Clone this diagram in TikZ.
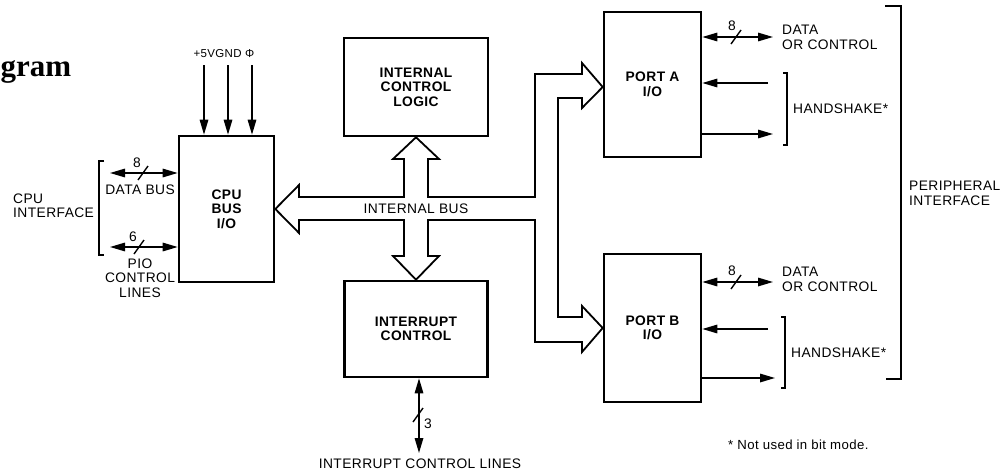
\documentclass[tikz,border=0pt]{standalone}
\usepackage{fontspec}
\setmainfont{Liberation Sans}[LetterSpace=3]
\newfontfamily\titlefont{Liberation Serif}
\usetikzlibrary{arrows.meta,calc}
\begin{document}
\begin{tikzpicture}[x=1pt,y=-1pt,
  blk/.style={draw,line width=2.6pt,inner sep=0pt,align=center,
    font=\fontsize{13.8}{14.5}\selectfont\bfseries},
  lbl/.style={inner sep=0pt,align=center,font=\fontsize{13.8}{14.5}\selectfont},
  num/.style={inner sep=0pt,font=\fontsize{13.8}{14.5}\selectfont},
  sig/.style={line width=1.5pt,-{Triangle[length=15pt,width=8.5pt]}},
  bisig/.style={line width=1.5pt,{Triangle[length=15pt,width=8.5pt]}-{Triangle[length=15pt,width=8.5pt]}},
  bus/.style={line width=1.8pt,line join=miter},
  brk/.style={line width=1.2pt},
  bigbrk/.style={line width=2.2pt},
  slashmark/.style={line width=1.4pt}]
\useasboundingbox (0,0) rectangle (1008,471);

% title fragment
\node[anchor=base west,inner sep=0pt,font=\titlefont\fontsize{31}{31}\selectfont\bfseries] (title) at (0.5,76) {gram};

% blocks
\node[blk,minimum width=95pt,minimum height=146pt] (cpu) at (226.5,209) {CPU\\BUS\\I/O};
\node[blk,minimum width=144pt,minimum height=98pt] (icl) at (416,87) {INTERNAL\\CONTROL\\LOGIC};
\node[blk,minimum width=143pt,minimum height=96pt] (irq) at (416,329) {INTERRUPT\\CONTROL};
\node[blk,minimum width=97pt,minimum height=145pt] (porta) at (652.5,84.5) {PORT A\\I/O};
\node[blk,minimum width=97pt,minimum height=148pt] (portb) at (652.5,328) {PORT B\\I/O};

% internal bus outline
\draw[bus] (cpu.east) -- (299,185) -- (299,197) -- (404,197) -- (404,159) -- (393,159)
  -- (icl.south) -- (439,159) -- (428,159) -- (428,197) -- (535,197) -- (535,74)
  -- (582,74) -- (582,63) -- ($(porta.west)+(0,2.5)$) -- (582,108) -- (582,98)
  -- (558,98) -- (558,317) -- (582,317) -- (582,306) -- (portb.west) -- (582,352)
  -- (582,342) -- (535,342) -- (535,220) -- (428,220) -- (428,256) -- (439,256)
  -- (irq.north) -- (393,256) -- (404,256) -- (404,220) -- (299,220) -- (299,233) -- cycle;
\node[lbl] (ibus) at (416,209) {INTERNAL BUS};

% power inputs
\node[inner sep=0pt,font=\fontsize{11.5}{12}\selectfont] (pwr) at (224,54) {+5VGND Φ};
\coordinate (pv) at (204,65);
\coordinate (pg) at (228,65);
\coordinate (pf) at (252,65);
\draw[sig] (pv) -- (pv |- cpu.north);
\draw[sig] (pg) -- (pg |- cpu.north);
\draw[sig] (pf) -- (pf |- cpu.north);

% CPU interface
\coordinate (db) at (110,173);
\draw[bisig] (db) -- (db -| cpu.west);
\draw[slashmark] (138,180) -- (148,166);
\node[num] (n8a) at (137,163) {8};
\node[lbl] (dbl) at (140,190) {DATA BUS};
\coordinate (pc) at (110,247);
\draw[bisig] (pc) -- (pc -| cpu.west);
\draw[slashmark] (134,254) -- (144,240);
\node[num] (n6) at (133,237) {6};
\node[lbl] (pio) at (140,278) {PIO\\CONTROL\\LINES};
\draw[brk] (104,161) -- (99,161) -- (99,255) -- (104,255);
\node[lbl,anchor=west,align=left] (cpuif) at (13,205.5) {CPU\\INTERFACE};

% Port A signals
\coordinate (ad) at (773,37);
\draw[bisig] (ad -| porta.east) -- (ad);
\draw[slashmark] (731,44) -- (741,30);
\node[num] (n8b) at (732,26) {8};
\node[lbl,anchor=west,align=left] (adl) at (782,37.5) {DATA\\OR CONTROL};
\coordinate (ah1) at (768,83);
\draw[sig] (ah1) -- (ah1 -| porta.east);
\coordinate (ah2) at (773,134);
\draw[sig] (ah2 -| porta.east) -- (ah2);
\draw[brk] (783,73) -- (787,73) -- (787,145) -- (783,145);
\node[lbl,anchor=west] (hsa) at (793,109) {HANDSHAKE*};

% Port B signals
\coordinate (bd) at (773,282);
\draw[bisig] (bd -| portb.east) -- (bd);
\draw[slashmark] (731,289) -- (741,275);
\node[num] (n8c) at (732,271) {8};
\node[lbl,anchor=west,align=left] (bdl) at (782,279.5) {DATA\\OR CONTROL};
\coordinate (bh1) at (768,329);
\draw[sig] (bh1) -- (bh1 -| portb.east);
\coordinate (bh2) at (775,378);
\draw[sig] (bh2 -| portb.east) -- (bh2);
\draw[brk] (781,317) -- (785,317) -- (785,388) -- (781,388);
\node[lbl,anchor=west] (hsb) at (791,353) {HANDSHAKE*};

% peripheral interface
\draw[bigbrk] (885,6) -- (901,6) -- (901,379) -- (886,379);
\node[lbl,anchor=west,align=left] (pif) at (909,193.5) {PERIPHERAL\\INTERFACE};

% interrupt lines
\coordinate (il) at (419,453);
\draw[bisig] (il |- irq.south) -- (il);
\draw[slashmark] (413,422) -- (423,408);
\node[num] (n3) at (428,424) {3};
\node[lbl] (ill) at (420,464) {INTERRUPT CONTROL LINES};

% footnote
\node[inner sep=0pt,anchor=west,font=\fontsize{13.2}{14}\selectfont] (note) at (728,445) {* Not used in bit mode.};
\end{tikzpicture}
\end{document}
